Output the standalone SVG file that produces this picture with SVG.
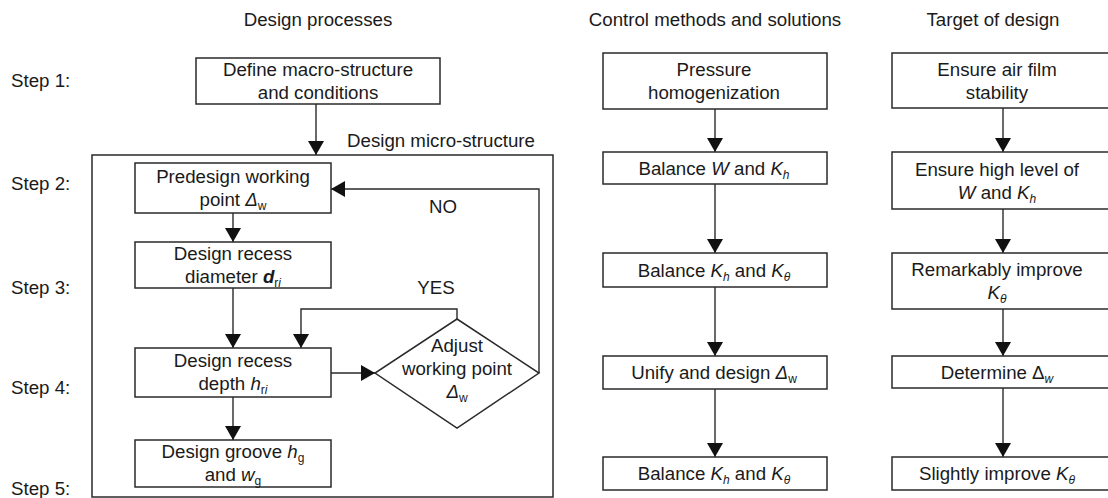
<svg xmlns="http://www.w3.org/2000/svg" width="1108" height="498" viewBox="0 0 1108 498">
<style>
text{font-family:"Liberation Sans",Arial,sans-serif;font-size:18.7px;fill:#1a1a1a}
.m{text-anchor:middle}
.i{font-style:italic}
.b{font-weight:bold}
.s{font-size:12px}
.box{fill:#fff;stroke:#2a2a2a;stroke-width:1.5}
.ln{fill:none;stroke:#2a2a2a;stroke-width:1.4}
</style>
<defs>
<marker id="ah" markerUnits="userSpaceOnUse" markerWidth="16" markerHeight="16" viewBox="0 0 14 16" refX="14" refY="8" orient="auto">
<path d="M0,0 L14,8 L0,16 Z" fill="#111"/>
</marker>
</defs>
<rect width="1108" height="498" fill="#fff"/>

<g id="titles">
<text class="m" x="318" y="26">Design processes</text>
<text class="m" x="715" y="26">Control methods and solutions</text>
<text class="m" x="993" y="26">Target of design</text>
<text x="11" y="87">Step 1:</text>
<text x="11" y="190">Step 2:</text>
<text x="11" y="294">Step 3:</text>
<text x="11" y="394">Step 4:</text>
<text x="11" y="495">Step 5:</text>
</g>

<g id="micro-structure">
<rect class="box" style="fill:none" x="92" y="155" width="461" height="342"/>
<text x="347" y="147">Design micro-structure</text>
</g>

<g id="connectors">
<line class="ln" x1="316" y1="104" x2="316" y2="155" marker-end="url(#ah)"/>
<line class="ln" x1="233" y1="213" x2="233" y2="242" marker-end="url(#ah)"/>
<line class="ln" x1="233" y1="288" x2="233" y2="348" marker-end="url(#ah)"/>
<line class="ln" x1="233" y1="397" x2="233" y2="440" marker-end="url(#ah)"/>
<line class="ln" x1="331" y1="373" x2="375" y2="373" marker-end="url(#ah)"/>
<path class="ln" d="M457,319 V309 H301 V348" marker-end="url(#ah)"/>
<path class="ln" d="M539,373 V189 H331" marker-end="url(#ah)"/>
<line class="ln" x1="715" y1="109" x2="715" y2="152" marker-end="url(#ah)"/>
<line class="ln" x1="715" y1="184" x2="715" y2="253" marker-end="url(#ah)"/>
<line class="ln" x1="715" y1="287" x2="715" y2="356" marker-end="url(#ah)"/>
<line class="ln" x1="715" y1="389" x2="715" y2="457" marker-end="url(#ah)"/>
<line class="ln" x1="1003" y1="108" x2="1003" y2="152" marker-end="url(#ah)"/>
<line class="ln" x1="1003" y1="209" x2="1003" y2="253" marker-end="url(#ah)"/>
<line class="ln" x1="1003" y1="309" x2="1003" y2="356" marker-end="url(#ah)"/>
<line class="ln" x1="1003" y1="388" x2="1003" y2="457" marker-end="url(#ah)"/>
<text class="m" x="443" y="213">NO</text>
<text class="m" x="436" y="294">YES</text>
</g>

<g id="define-macro">
<rect class="box" x="196" y="58" width="244" height="46"/>
<text class="m" x="318" y="76">Define macro-structure</text>
<text class="m" x="318" y="99">and conditions</text>
</g>

<g id="predesign">
<rect class="box" x="135" y="163" width="196" height="50"/>
<text class="m" x="233" y="183">Predesign working</text>
<text class="m" x="233" y="206">point <tspan class="i">Δ</tspan><tspan class="s" dy="4">w</tspan></text>
</g>

<g id="recess-diameter">
<rect class="box" x="135" y="242" width="196" height="46"/>
<text class="m" x="233" y="260">Design recess</text>
<text class="m" x="233" y="283">diameter <tspan class="i b">d</tspan><tspan class="s" dy="4">r</tspan><tspan class="s i">i</tspan></text>
</g>

<g id="recess-depth">
<rect class="box" x="135" y="348" width="196" height="49"/>
<text class="m" x="233" y="367">Design recess</text>
<text class="m" x="233" y="390">depth <tspan class="i">h</tspan><tspan class="s" dy="4">r</tspan><tspan class="s i">i</tspan></text>
</g>

<g id="groove">
<rect class="box" x="135" y="440" width="196" height="47"/>
<text class="m" x="233" y="458">Design groove <tspan class="i">h</tspan><tspan class="s" dy="4">g</tspan></text>
<text class="m" x="233" y="481">and <tspan class="i">w</tspan><tspan class="s" dy="4">g</tspan></text>
</g>

<g id="adjust">
<polygon class="box" points="457,319 539,373 457,428 375,373"/>
<text class="m" x="457" y="352">Adjust</text>
<text class="m" x="457" y="375">working point</text>
<text class="m" x="457" y="398"><tspan class="i">Δ</tspan><tspan class="s" dy="4">w</tspan></text>
</g>

<g id="pressure">
<rect class="box" x="603" y="53" width="224" height="56"/>
<text class="m" x="714" y="76">Pressure</text>
<text class="m" x="714" y="99">homogenization</text>
</g>

<g id="balance-w-kh">
<rect class="box" x="603" y="152" width="224" height="32"/>
<text class="m" x="714" y="175">Balance <tspan class="i">W</tspan> and <tspan class="i">K</tspan><tspan class="s i" dy="4">h</tspan></text>
</g>

<g id="balance-kh-kt-1">
<rect class="box" x="603" y="253" width="224" height="34"/>
<text class="m" x="714" y="277">Balance <tspan class="i">K</tspan><tspan class="s i" dy="4">h</tspan><tspan dy="-4"> and </tspan><tspan class="i">K</tspan><tspan class="s i" dy="4">θ</tspan></text>
</g>

<g id="unify">
<rect class="box" x="603" y="356" width="224" height="33"/>
<text class="m" x="714" y="379">Unify and design <tspan class="i">Δ</tspan><tspan class="s" dy="4">w</tspan></text>
</g>

<g id="balance-kh-kt-2">
<rect class="box" x="603" y="457" width="224" height="33"/>
<text class="m" x="714" y="480">Balance <tspan class="i">K</tspan><tspan class="s i" dy="4">h</tspan><tspan dy="-4"> and </tspan><tspan class="i">K</tspan><tspan class="s i" dy="4">θ</tspan></text>
</g>

<g id="air-film">
<rect class="box" x="892" y="53" width="222" height="55"/>
<text class="m" x="997" y="76">Ensure air film</text>
<text class="m" x="997" y="99">stability</text>
</g>

<g id="high-level">
<rect class="box" x="892" y="152" width="222" height="57"/>
<text class="m" x="997" y="176">Ensure high level of</text>
<text class="m" x="997" y="199"><tspan class="i">W</tspan> and <tspan class="i">K</tspan><tspan class="s i" dy="4">h</tspan></text>
</g>

<g id="remarkably">
<rect class="box" x="892" y="253" width="222" height="56"/>
<text class="m" x="997" y="276">Remarkably improve</text>
<text class="m" x="997" y="299"><tspan class="i">K</tspan><tspan class="s i" dy="4">θ</tspan></text>
</g>

<g id="determine">
<rect class="box" x="892" y="356" width="222" height="32"/>
<text class="m" x="997" y="379">Determine Δ<tspan class="s i" dy="4">w</tspan></text>
</g>

<g id="slightly">
<rect class="box" x="892" y="457" width="222" height="33"/>
<text class="m" x="997" y="480">Slightly improve <tspan class="i">K</tspan><tspan class="s i" dy="4">θ</tspan></text>
</g>
</svg>
